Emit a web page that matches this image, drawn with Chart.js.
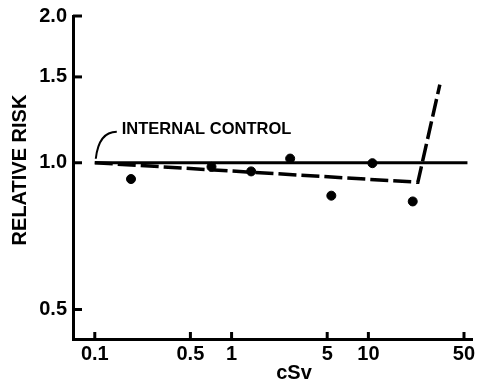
<!DOCTYPE html>
<html>
<head>
<meta charset="utf-8">
<script src="https://cdn.jsdelivr.net/npm/chart.js@4"></script>
<style>
  html, body { margin: 0; padding: 0; background: #fff; }
</style>
</head>
<body>
<canvas id="rrChart" width="478" height="383"></canvas>
<script>
// dose (cSv) and relative risk of the plotted points
const doseValues = [0.184, 0.713, 1.39, 2.68, 5.36, 10.7, 21.1];
const riskValues = [0.926, 0.981, 0.960, 1.020, 0.856, 0.998, 0.833];

// internal control reference line and fitted dashed curve
const controlX = [0.1, 53];
const controlY = [1.0, 1.0];
const fitX = [0.1, 23, 33.3];
const fitY = [1.0, 0.912, 1.447];

const xTicks = [0.1, 0.5, 1, 5, 10, 50];
const xTickLabels = ['0.1', '0.5', '1', '5', '10', '50'];
const yTicks = [0.5, 1.0, 1.5, 2.0];
const yTickLabels = ['0.5', '1.0', '1.5', '2.0'];

const fontFamily = '"Liberation Sans", Arial, sans-serif';
const boldFont = 'bold 20px ' + fontFamily;

const decorPlugin = {
    id: 'decor',
    afterDraw(chart) {
        const ctx = chart.ctx;
        const xs = chart.scales.x;
        const ys = chart.scales.y;
        const area = chart.chartArea;
        ctx.save();
        ctx.strokeStyle = '#000';
        ctx.fillStyle = '#000';
        ctx.lineWidth = 3;
        // inward tick marks
        yTicks.forEach(function(v) {
            const py = ys.getPixelForValue(v);
            ctx.beginPath();
            ctx.moveTo(area.left, py);
            ctx.lineTo(area.left + 9, py);
            ctx.stroke();
        });
        xTicks.forEach(function(v) {
            const px = xs.getPixelForValue(v);
            ctx.beginPath();
            ctx.moveTo(px, area.bottom);
            ctx.lineTo(px, area.bottom - 7);
            ctx.stroke();
        });
        // leader for the internal control label
        const lx = xs.getPixelForValue(0.1);
        const ly = ys.getPixelForValue(1.0);
        ctx.lineWidth = 2;
        ctx.beginPath();
        ctx.moveTo(lx + 1, ly - 4);
        ctx.quadraticCurveTo(lx + 4, ly - 31, lx + 22, ly - 31);
        ctx.stroke();
        ctx.font = 'bold 16.5px ' + fontFamily;
        ctx.textBaseline = 'middle';
        ctx.textAlign = 'left';
        ctx.fillText('INTERNAL CONTROL', lx + 27, ly - 33);
        // axis titles
        ctx.font = boldFont;
        ctx.textAlign = 'center';
        ctx.fillText('cSv', 294, 373);
        ctx.translate(20, 170);
        ctx.rotate(-Math.PI / 2);
        ctx.fillText('RELATIVE RISK', 0, 0);
        ctx.restore();
    }
};

const ctx = document.getElementById('rrChart').getContext('2d');
const rrChart = new Chart(ctx, {
    type: 'scatter',
    data: {
        datasets: [
            {
                label: 'Observed',
                data: doseValues.map(function(d, i) { return {x: d, y: riskValues[i]}; }),
                backgroundColor: '#000',
                borderColor: '#000',
                pointRadius: 4.5,
                showLine: false
            },
            {
                label: 'Fit',
                data: fitX.map(function(d, i) { return {x: d, y: fitY[i]}; }),
                showLine: true,
                borderColor: '#000',
                borderWidth: 3.5,
                borderDash: [18, 5],
                pointRadius: 0,
                tension: 0
            },
            {
                label: 'Internal control',
                data: controlX.map(function(d, i) { return {x: d, y: controlY[i]}; }),
                showLine: true,
                borderColor: '#000',
                borderWidth: 3,
                pointRadius: 0
            }
        ]
    },
    options: {
        responsive: false,
        animation: false,
        devicePixelRatio: 1,
        layout: { padding: { top: 16, left: 0, right: -4, bottom: 0 } },
        plugins: {
            legend: { display: false },
            tooltip: { enabled: false }
        },
        scales: {
            x: {
                type: 'logarithmic',
                min: 0.0693,
                max: 57.7,
                grid: { display: false, drawTicks: false },
                border: { display: true, color: '#000', width: 3 },
                afterBuildTicks: function(scale) {
                    scale.ticks = xTicks.map(function(v) { return {value: v}; });
                },
                afterFit: function(scale) {
                    scale.height = 44;
                    scale.paddingLeft = 0;
                    scale.paddingRight = 0;
                },
                ticks: {
                    autoSkip: false,
                    maxRotation: 0,
                    padding: 3,
                    color: '#000',
                    font: { family: fontFamily, size: 20, weight: 'bold' },
                    callback: function(value, index) { return xTickLabels[index]; }
                }
            },
            y: {
                type: 'logarithmic',
                min: 0.435,
                max: 2.0,
                grid: { display: false, drawTicks: false },
                border: { display: true, color: '#000', width: 3 },
                afterBuildTicks: function(scale) {
                    scale.ticks = yTicks.map(function(v) { return {value: v}; });
                },
                afterFit: function(scale) {
                    scale.width = 73;
                    scale.paddingTop = 0;
                    scale.paddingBottom = 0;
                },
                ticks: {
                    autoSkip: false,
                    padding: 6,
                    color: '#000',
                    font: { family: fontFamily, size: 20, weight: 'bold' },
                    callback: function(value, index) { return yTickLabels[index]; }
                }
            }
        }
    },
    plugins: [decorPlugin]
});
</script>
</body>
</html>
